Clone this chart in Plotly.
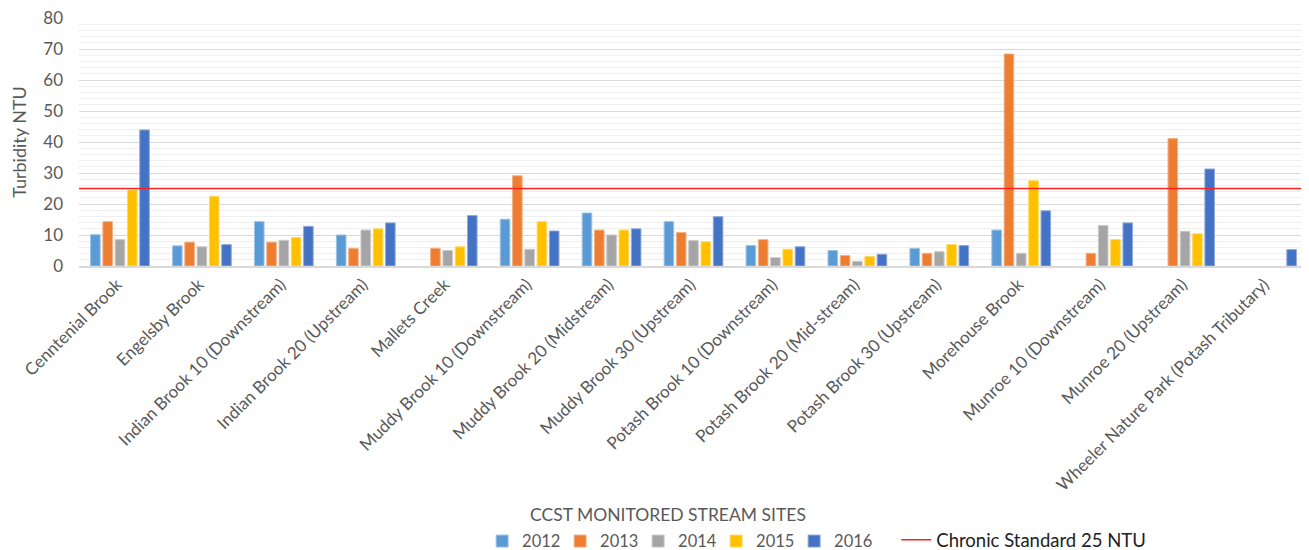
import plotly.graph_objects as go

sites = [
    "Cenntenial Brook",
    "Engelsby Brook",
    "Indian Brook 10 (Downstream)",
    "Indian Brook 20 (Upstream)",
    "Mallets Creek",
    "Muddy Brook 10 (Downstream)",
    "Muddy Brook 20 (Midstream)",
    "Muddy Brook 30 (Upstream)",
    "Potash Brook 10 (Downstream)",
    "Potash Brook 20 (Mid-stream)",
    "Potash Brook 30 (Upstream)",
    "Morehouse Brook",
    "Munroe 10 (Downstream)",
    "Munroe 20 (Upstream)",
    "Wheeler Nature Park (Potash Tributary)",
]

years = ["2012", "2013", "2014", "2015", "2016"]

turbidity_2012 = [10.1, 6.5, 14.3, 10.0, None, 15.1, 17.1, 14.3, 6.6, 5.0, 5.7, 11.6, None, None, None]
turbidity_2013 = [14.3, 7.7, 7.7, 5.7, 5.7, 29.1, 11.6, 10.8, 8.5, 3.4, 4.1, 68.4, 4.1, 41.1, None]
turbidity_2014 = [8.5, 6.2, 8.3, 11.6, 5.0, 5.4, 10.0, 8.2, 2.7, 1.5, 4.6, 4.1, 13.1, 11.2, None]
turbidity_2015 = [24.5, 22.5, 9.2, 12.0, 6.2, 14.3, 11.6, 7.8, 5.4, 3.1, 6.9, 27.5, 8.5, 10.4, None]
turbidity_2016 = [43.9, 6.9, 12.8, 13.9, 16.3, 11.3, 12.0, 15.9, 6.2, 3.8, 6.6, 17.8, 13.9, 31.3, 5.3]

chronic_standard = 25

series = [turbidity_2012, turbidity_2013, turbidity_2014, turbidity_2015, turbidity_2016]
colors = ["#5B9BD5", "#ED7D31", "#A5A5A5", "#FFC000", "#4472C4"]
edges = ["#9DC3E6", "#F4B183", "#C9C9C9", "#FFD966", "#8FAADC"]

font_family = "Lato, 'Liberation Sans', sans-serif"
grey_text = "#595959"

fig = go.Figure()

for year, values, color, edge in zip(years, series, colors, edges):
    fig.add_trace(go.Bar(
        x=sites,
        y=values,
        name=year,
        marker=dict(color=color, line=dict(color=edge, width=1)),
        legend="legend",
    ))

# chronic standard, drawn across the full plot width
fig.add_shape(
    type="line",
    xref="paper", x0=0, x1=1,
    yref="y", y0=chronic_standard, y1=chronic_standard,
    line=dict(color="#FF2222", width=1.5),
    name="Chronic Standard 25 NTU",
    showlegend=True,
    legend="legend2",
)

# axis title sits a little left of the plot centre in the original
fig.add_annotation(
    text="CCST MONITORED STREAM SITES",
    xref="paper", x=0.479, xanchor="center",
    yref="paper", y=-1.0, yanchor="middle",
    showarrow=False,
    font=dict(size=17.5, color=grey_text),
)

# the page body keeps its default 8px margin, so the figure is 8px smaller
fig.update_layout(
    width=1301,
    height=542,
    margin=dict(l=71, r=1, t=10, b=284),
    paper_bgcolor="white",
    plot_bgcolor="white",
    font=dict(family=font_family, color=grey_text, size=14),
    barmode="group",
    bargap=0.25,
    bargroupgap=0.22,
    legend=dict(
        orientation="h",
        x=0.328, xanchor="left",
        yref="container", y=0.016, yanchor="middle",
        font=dict(size=16.5, color=grey_text),
        itemwidth=30,
        entrywidth=33,
        traceorder="normal",
    ),
    legend2=dict(
        orientation="h",
        x=0.665, xanchor="left",
        yref="container", y=0.018, yanchor="middle",
        font=dict(size=18.5, color="#222222"),
    ),
)

fig.update_xaxes(
    automargin=False,
    tickangle=-45,
    tickfont=dict(size=17, color=grey_text),
    ticklabelshift=-3,
    showgrid=False,
    showline=True,
    linecolor="#D9D9D9",
    linewidth=2,
)

fig.update_yaxes(
    automargin=False,
    range=[0, 80],
    dtick=10,
    tickfont=dict(size=17, color=grey_text),
    ticklabeloverflow="allow",
    gridcolor="#D9D9D9",
    gridwidth=1,
    zeroline=False,
    showline=False,
    ticklabelstandoff=15,
    minor=dict(dtick=2, showgrid=True, gridcolor="#EFEFEF", gridwidth=1),
    title=dict(text="Turbidity NTU", font=dict(size=18, color=grey_text), standoff=12),
)

fig.write_html("out.html")
